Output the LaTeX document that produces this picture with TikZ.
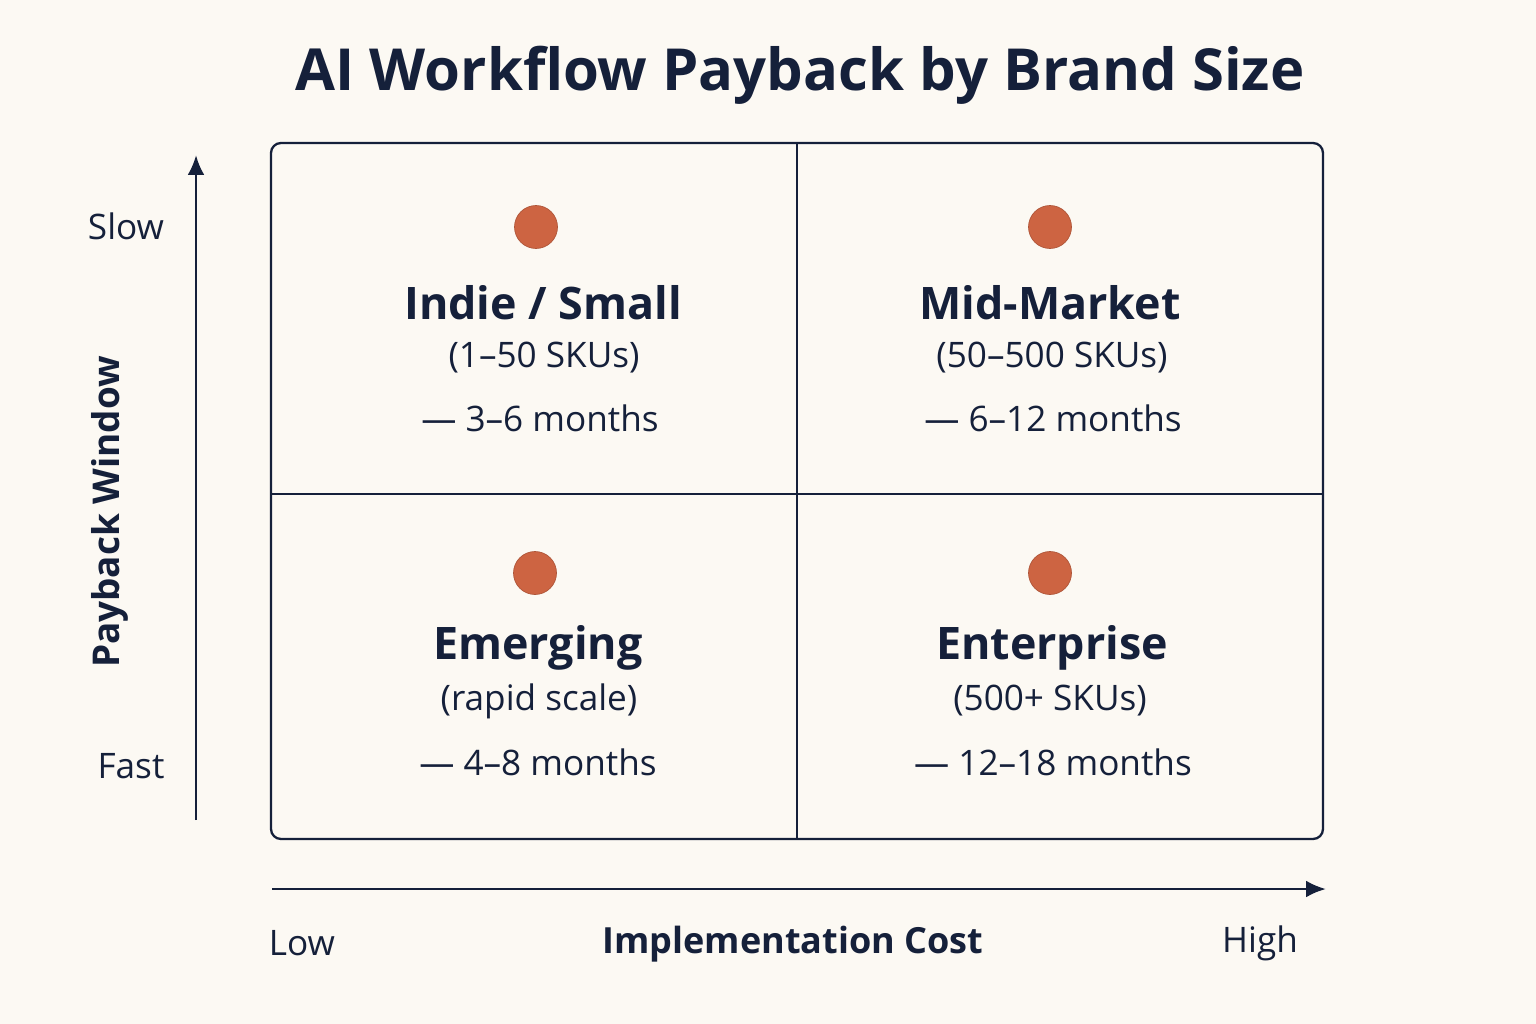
\documentclass[tikz,border=0pt]{standalone}
\usepackage{fontspec}
\usetikzlibrary{arrows.meta}
\setmainfont{Open Sans}
\definecolor{bg}{HTML}{FCF9F3}
\definecolor{ink}{HTML}{15203A}
\definecolor{dot}{HTML}{CD6442}
\begin{document}
\begin{tikzpicture}[x=0.02cm,y=-0.02cm,
  ttl/.style={font=\fontsize{25.5}{30}\selectfont\bfseries,text=ink},
  sub/.style={font=\fontsize{20}{24}\selectfont,text=ink},
  ax/.style={font=\fontsize{20}{24}\selectfont,text=ink},
  pt/.style={circle,fill=dot,draw=dot!85!black,line width=0.4pt,minimum size=0.86cm,inner sep=0pt},
  line/.style={draw=ink,line width=1.3pt}]
\fill[bg] (0,0) rectangle (1536,1024);
\node[text=ink,font=\fontsize{33}{38}\selectfont\bfseries] (title) at (800,75) {AI Workflow Payback by Brand Size};
\draw[line,rounded corners=0.2cm] (271,143) rectangle (1323,839);
\coordinate (vt) at (797,143); \coordinate (vb) at (797,839);
\coordinate (hl) at (271,494); \coordinate (hr) at (1323,494);
\draw[line] (vt)--(vb); \draw[line] (hl)--(hr);
% quadrants
\node[pt] (d1) at (536,227) {};
\node[ttl] (t1) at (543,303) {Indie / Small};
\node[sub] (s1) at (544,358) {(1–50 SKUs)};
\node[sub] (m1) at (540,418) {— 3–6 months};
\node[pt] (d2) at (1050,227) {};
\node[ttl] (t2) at (1050,303) {Mid-Market};
\node[sub] (s2) at (1052,358) {(50–500 SKUs)};
\node[sub] (m2) at (1053,418) {— 6–12 months};
\node[pt] (d3) at (535,573) {};
\node[ttl] (t3) at (538,648) {Emerging};
\node[sub] (s3) at (539,701) {(rapid scale)};
\node[sub] (m3) at (538,762) {— 4–8 months};
\node[pt] (d4) at (1050,573) {};
\node[ttl] (t4) at (1052,648) {Enterprise};
\node[sub] (s4) at (1050,701) {(500+ SKUs)};
\node[sub] (m4) at (1053,762) {— 12–18 months};
% axes
\coordinate (y0) at (196,820); \coordinate (y1) at (196,155);
\draw[draw=ink,line width=1.7pt,-{Latex[length=0.4cm,width=0.34cm]}] (y0)--(y1);
\coordinate (x0) at (272,889); \coordinate (x1) at (1326,889);
\draw[draw=ink,line width=1.7pt,-{Latex[length=0.4cm,width=0.34cm]}] (x0)--(x1);
\node[ax] (slow) at (126,226) {Slow};
\node[ax] (fast) at (131,766) {Fast};
\node[ax,rotate=90,font=\fontsize{21}{26}\selectfont\bfseries] (pw) at (110,512) {Payback Window};
\node[ax] (low) at (302,943) {Low};
\node[ax] (high) at (1260,943) {High};
\node[ax,font=\fontsize{20.5}{26}\selectfont\bfseries] (ic) at (793,944) {Implementation Cost};
\end{tikzpicture}
\end{document}
